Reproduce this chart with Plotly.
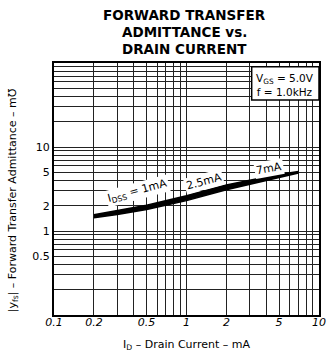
import math
import plotly.graph_objects as go

# ---- data ----
drain_current_ma = [0.2, 0.3, 0.5, 1, 2, 3, 5, 7]
yfs_upper = [1.56, 1.74, 2.03, 2.63, 3.52, 4.02, 4.70, 5.10]
yfs_lower = [1.44, 1.57, 1.80, 2.30, 3.10, 3.60, 4.30, 4.90]

x_tick_vals = [0.1, 0.2, 0.5, 1, 2, 5, 10]
x_tick_text = ["0.1", "0.2", "0.5", "1", "2", "5", "10"]
y_tick_vals = [0.5, 1, 2, 5, 10]
y_tick_text = ["0.5", "1", "2", "5", "10"]

title_lines = ["FORWARD TRANSFER", "ADMITTANCE vs.", "DRAIN CURRENT"]

idss_labels = ["I<sub>DSS</sub> = 1mA", "2.5mA", "7mA"]
idss_label_x = [0.43, 1.36, 4.2]
idss_label_y = [3.0, 3.85, 5.6]
idss_label_angle = [-15, -15, -10]

# log grid values
x_grid = [m * 10 ** e for e in (-1, 0) for m in range(1, 10)] + [10]
y_grid = [m * 10 ** e for e in (-1, 0, 1) for m in range(1, 10)] + [100]


def labels_for(grid, vals, texts):
    out = []
    for g in grid:
        lab = ""
        for v, t in zip(vals, texts):
            if abs(g - v) < 1e-9:
                lab = t
        out.append(lab)
    return out


fig = go.Figure()
fig.add_trace(go.Scatter(x=drain_current_ma, y=yfs_lower, mode="lines",
                         line=dict(color="black", width=1.5), showlegend=False,
                         hoverinfo="skip"))
fig.add_trace(go.Scatter(x=drain_current_ma, y=yfs_upper, mode="lines",
                         line=dict(color="black", width=1.5), fill="tonexty",
                         fillcolor="black", showlegend=False, hoverinfo="skip"))

for t, xv, yv, a in zip(idss_labels, idss_label_x, idss_label_y, idss_label_angle):
    fig.add_annotation(x=math.log10(xv), y=math.log10(yv), xref="x", yref="y",
                       text=t, showarrow=False, textangle=a,
                       xanchor="center", yanchor="middle",
                       font=dict(family="DejaVu Sans", size=11, color="black"),
                       bgcolor="white")

# condition box
fig.add_shape(type="rect", xref="paper", yref="paper", x0=0.746, x1=1.0,
              y0=0.853, y1=0.985, fillcolor="white",
              line=dict(color="black", width=1.5), layer="above")
fig.add_annotation(xref="paper", yref="paper", x=0.873, y=0.912,
                   xanchor="center", yanchor="middle",
                   text="V<sub>GS</sub> = 5.0V<br>f = 1.0kHz", showarrow=False,
                   align="center",
                   font=dict(family="DejaVu Sans", size=10.5, color="black"))

# title, one annotation per line for tight line spacing
for i, line in enumerate(title_lines):
    fig.add_annotation(xref="paper", yref="paper", x=(188 - 54) / 272,
                       y=1 + (63 - (15 + 16.8 * i)) / 252,
                       yanchor="middle", xanchor="center",
                       text="<b>" + line + "</b>", showarrow=False,
                       font=dict(family="DejaVu Sans", size=13.5, color="black"))

# axis titles
fig.add_annotation(xref="paper", yref="paper", x=-0.154, y=0.456,
                   xanchor="center", yanchor="middle",
                   text="|y<sub>fs</sub>| – Forward Transfer Admittance – m℧",
                   textangle=-90, showarrow=False,
                   font=dict(family="DejaVu Sans", size=11, color="black"))
fig.add_annotation(xref="paper", yref="paper", x=0.5, y=-0.119,
                   xanchor="center", yanchor="middle",
                   text="I<sub>D</sub> – Drain Current – mA", showarrow=False,
                   font=dict(family="DejaVu Sans", size=11, color="black"))

fig.update_layout(
    width=330, height=357,
    margin=dict(l=54, r=4, t=63, b=42),
    paper_bgcolor="white", plot_bgcolor="white",
    xaxis=dict(type="log", range=[-1, 1], tickmode="array",
               tickvals=x_grid, ticktext=labels_for(x_grid, x_tick_vals, x_tick_text),
               showgrid=True, gridcolor="#222", gridwidth=1,
               showline=True, linecolor="black", linewidth=2, mirror=True,
               ticks="", ticklen=0, ticklabelstandoff=-4, zeroline=False,
               ticklabeloverflow="allow",
               tickfont=dict(family="DejaVu Sans", size=11, color="black",
                             style="italic")),
    yaxis=dict(type="log", range=[-1, 2], tickmode="array",
               tickvals=y_grid, ticktext=labels_for(y_grid, y_tick_vals, y_tick_text),
               showgrid=True, gridcolor="#222", gridwidth=1,
               showline=True, linecolor="black", linewidth=2, mirror=True,
               ticks="", ticklen=0, zeroline=False,
               tickfont=dict(family="DejaVu Sans", size=11, color="black")),
)

# remove the page's default body margin so the figure sits at the window origin
fig.write_html("out.html",
               config={"displayModeBar": False},
               post_script="document.body.style.margin='0';"
                           "document.body.style.overflow='hidden';")
